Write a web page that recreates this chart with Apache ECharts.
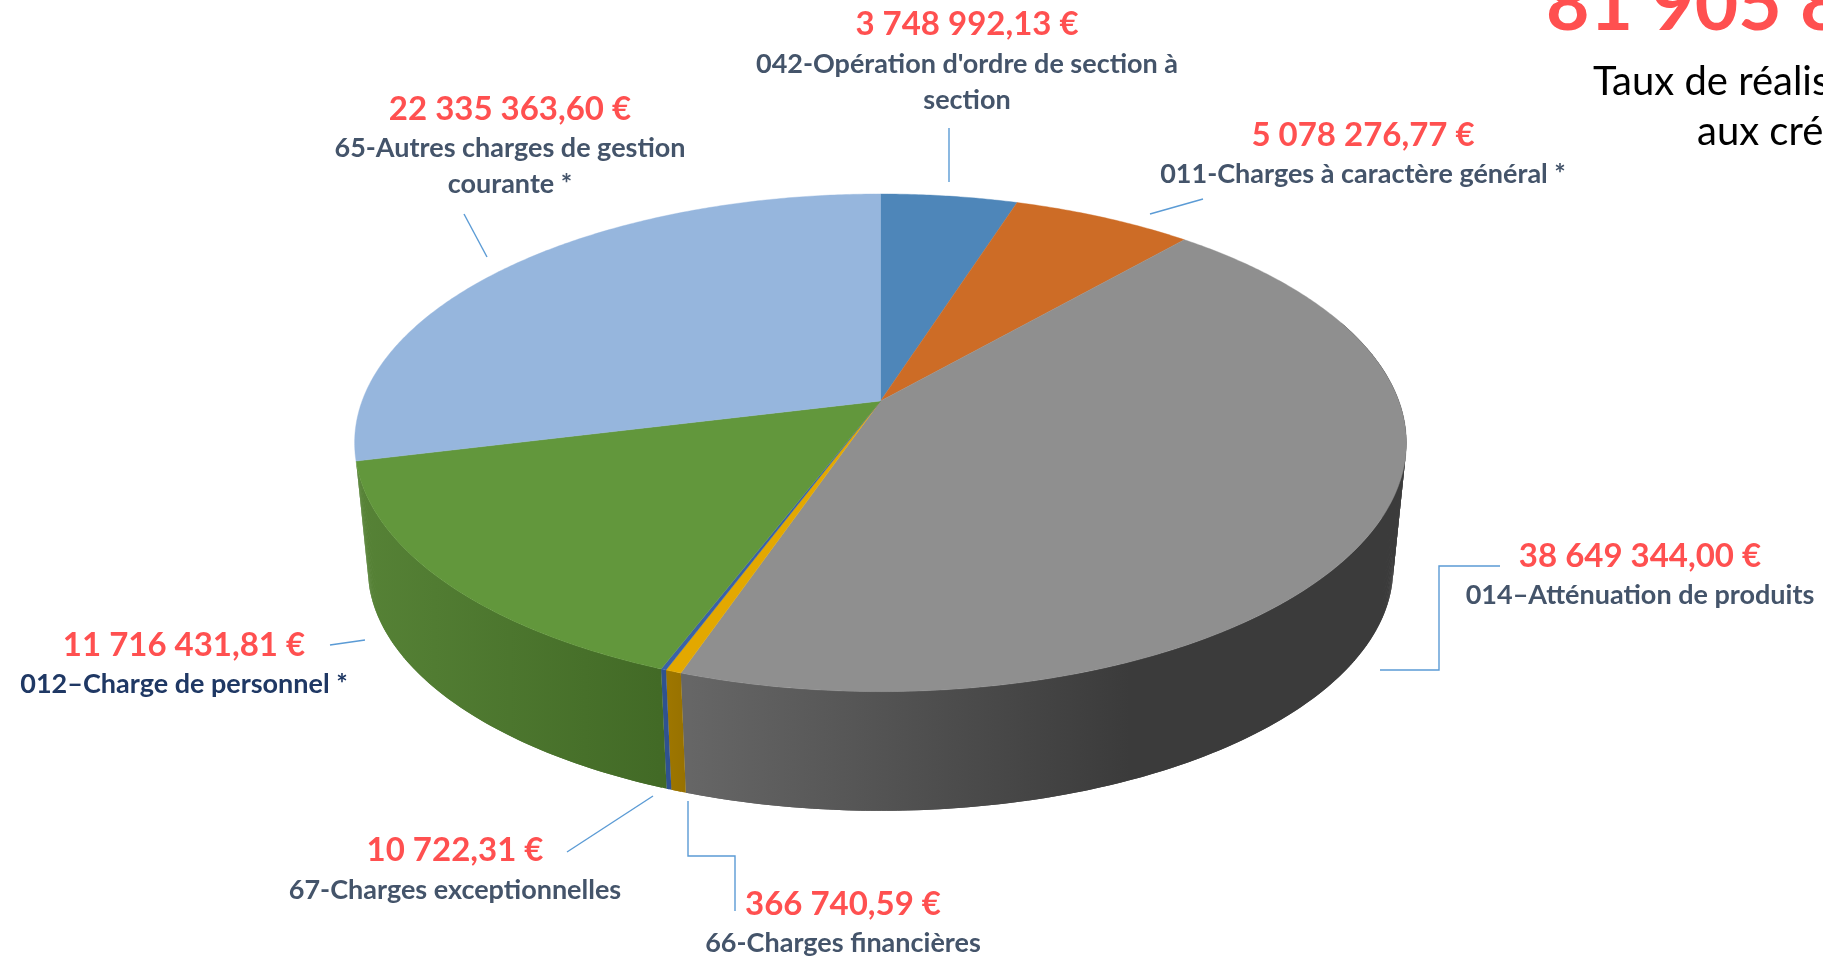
<!DOCTYPE html>
<html>
<head>
<meta charset="utf-8">
<title>Dépenses</title>
<style>
  html, body { margin: 0; height: 100%; background: #fff; overflow: hidden; }
  #chart { width: 100vw; height: 100vh; }
</style>
<script src="https://cdn.jsdelivr.net/npm/echarts@6/dist/echarts.min.js"></script>
</head>
<body>
<div id="chart"></div>
<script>
const categories = [
  "042-Opération d'ordre de section à\nsection",
  '011-Charges à caractère général *',
  '014–Atténuation de produits',
  '66-Charges financières',
  '67-Charges exceptionnelles',
  '012–Charge de personnel *',
  '65-Autres charges de gestion\ncourante *'
];
const amounts = [3748992.13, 5078276.77, 38649344.00, 366740.59, 10722.31, 11716431.81, 22335363.60];
// slice sweeps, they do not follow the printed amounts exactly
const sweepDegrees = [17.8, 23.5, 157.6, 1.5, 0.5, 55.3, 103.8];

const topColors = ['#4e86b9', '#cd6c26', '#8f8f8f', '#e3a800', '#3a62a8', '#62973c', '#96b6dd'];
// null: the outer wall of that slice is out of sight
const wallStops = [
  null,
  null,
  ['#666666', '#3b3b3b'],
  ['#a07800', '#967000'],
  ['#2f5290', '#2f5290'],
  ['#568236', '#426a26'],
  null
];
const wallRange = [null, null, [690, 1130], [660, 690], [660, 670], [360, 660], null];

// [x, amount y, name y, name colour]
const labelSpots = [
  [967, 24, 46, '#44546a'],
  [1363, 135, 156, '#44546a'],
  [1640, 556, 577, '#44546a'],
  [843, 904, 925, '#44546a'],
  [455, 850, 872, '#44546a'],
  [184, 645, 666, '#1f3864'],
  [510, 109, 130, '#44546a']
];
const leaderLines = [
  [[949, 128], [949, 182]],
  [[1150, 214], [1203, 199]],
  [[1500, 566], [1439, 566], [1439, 670], [1380, 670]],
  [[688, 801], [688, 856], [735, 856], [735, 911]],
  [[653, 796], [567, 852]],
  [[330, 645], [365, 640]],
  [[464, 214], [487, 257]]
];

// perspective of the disc
const cx = 880.5, cy = 401, spreadX = 518.4, spreadY = 241.8, tilt = 0.168;
const depthScale = 0.975, vanishY = 5460, wallFrom = 70;

function rimPoint(deg, low) {
  const a = deg * Math.PI / 180;
  const w = 1 + tilt * Math.cos(a);
  const x = cx + spreadX * Math.sin(a) / w;
  const y = cy - spreadY * Math.cos(a) / w;
  if (!low) return [x, y];
  return [cx + (x - cx) * depthScale, vanishY - (vanishY - y) * depthScale];
}

function arcPoints(from, to, low) {
  const pts = [];
  const steps = Math.max(2, Math.ceil((to - from) * 2));
  for (let i = 0; i <= steps; i++) {
    pts.push(rimPoint(from + (to - from) * i / steps, low));
  }
  return pts;
}

function euros(v) {
  const parts = v.toFixed(2).split('.');
  return parts[0].replace(/\B(?=(\d{3})+$)/g, ' ') + ',' + parts[1] + ' €';
}

let running = 0;
const sliceRows = sweepDegrees.map((d, i) => {
  const row = [running, running + d, i];
  running += d;
  return row;
});
const total = amounts.reduce((a, b) => a + b, 0);

// the wall is a strip of small quads, one long polygon would leave out the silhouette.
// each quad runs over the next one so no seams show between them
function renderWall(params, api) {
  const from = Math.max(api.value(0), wallFrom), to = api.value(1), i = api.value(2);
  if (!wallStops[i]) return null;
  const fill = new echarts.graphic.LinearGradient(wallRange[i][0], 0, wallRange[i][1], 0, [
    { offset: 0, color: wallStops[i][0] },
    { offset: 1, color: wallStops[i][1] }
  ], true);
  const upper = arcPoints(from, to, false);
  const lower = arcPoints(from, to, true);
  const last = upper.length - 1;
  const children = [];
  for (let k = last - 1; k >= 0; k--) {
    const next = Math.min(k + 2, last);
    children.push({
      type: 'polygon',
      shape: { points: [upper[k], upper[next], lower[next], lower[k]] },
      style: { fill }
    });
  }
  return { type: 'group', children };
}

function renderTop(params, api) {
  const from = api.value(0), to = api.value(1), i = api.value(2);
  const points = [[cx, cy]].concat(arcPoints(from, to, false));
  return {
    type: 'polygon',
    shape: { points },
    style: { fill: topColors[i], stroke: topColors[i], lineWidth: 0.4 }
  };
}

const amountFont = 'bold 33px Lato';
const nameFont = 'bold 27px Lato';
const graphics = [];

categories.forEach((name, i) => {
  const spot = labelSpots[i];
  graphics.push({
    type: 'text', silent: true,
    style: { text: euros(amounts[i]), x: spot[0], y: spot[1], align: 'center', verticalAlign: 'middle', font: amountFont, fill: '#ff5050' }
  });
  graphics.push({
    type: 'text', silent: true,
    style: { text: name, x: spot[0], y: spot[2], align: 'center', verticalAlign: 'top', font: nameFont, lineHeight: 36, fill: spot[3] }
  });
});

leaderLines.forEach(points => {
  graphics.push({
    type: 'polyline', silent: true,
    shape: { points },
    style: { stroke: '#5b9bd5', lineWidth: 1.4, fill: 'none' }
  });
});

graphics.push({
  type: 'text', silent: true,
  style: { text: euros(total), x: 1546, y: 6, align: 'left', verticalAlign: 'middle', font: 'bold 75px Lato', fill: '#ff5050' }
});
graphics.push({
  type: 'text', silent: true,
  style: { text: 'Taux de réalisation', x: 1593, y: 82, align: 'left', verticalAlign: 'middle', font: '40px Lato', fill: '#000' }
});
graphics.push({
  type: 'text', silent: true,
  style: { text: 'aux crédits', x: 1697, y: 132, align: 'left', verticalAlign: 'middle', font: '40px Lato', fill: '#000' }
});

const chart = echarts.init(document.getElementById('chart'));
chart.setOption({
  animation: false,
  backgroundColor: '#fff',
  graphic: graphics,
  series: [
    { type: 'custom', coordinateSystem: 'none', z: 1, silent: true, renderItem: renderWall, data: sliceRows },
    { type: 'custom', coordinateSystem: 'none', z: 2, silent: true, renderItem: renderTop, data: sliceRows }
  ]
});
window.addEventListener('resize', () => chart.resize());
</script>
</body>
</html>
